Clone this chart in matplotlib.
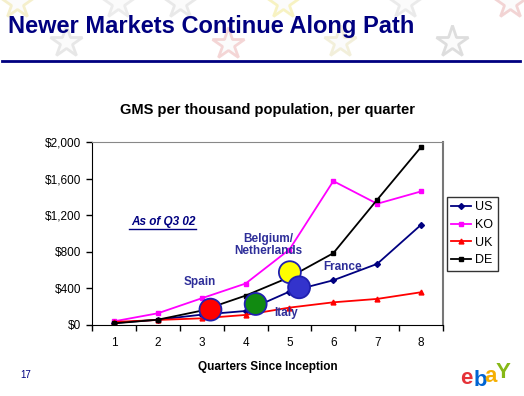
import matplotlib.pyplot as plt
from matplotlib.lines import Line2D
from matplotlib.ticker import FuncFormatter, FixedLocator

plt.rcParams['font.family'] = ['Liberation Sans', 'DejaVu Sans']

# GMS per thousand population, per quarter
quarters = [1, 2, 3, 4, 5, 6, 7, 8]
us = [22, 58, 113, 153, 365, 489, 668, 1095]
ko = [40, 128, 292, 453, 825, 1573, 1325, 1460]
uk = [33, 55, 73, 110, 190, 248, 285, 358]
de = [18, 58, 157, 321, 522, 785, 1369, 1945]

# newer markets placed on the path (quarter, value)
markets = ['Spain', 'Belgium/\nNetherlands', 'France', 'Italy']
market_q = [3.2, 5.01, 5.22, 4.23]
market_val = [168, 577, 412, 230]
market_colors = ['#ff0000', '#ffff00', '#3333cc', '#118a11']

label_col = '#2e2e99'

fig = plt.figure(figsize=(5.24, 3.96), dpi=100)

# faint stars in the header
star_x = [17, 66, 118, 180, 228, 283, 340, 405, 452, 510]
star_y = [3, 42, 3, 3, 44, 3, 42, 3, 42, 3]
star_c = ['#f3ecc0', '#e2e2e2', '#e8e8e8', '#e4e4e4', '#f2cccc',
          '#f6f0b4', '#f0ecd2', '#e6e6e6', '#d6d6d6', '#f0caca']
for sx, sy, sc in zip(star_x, star_y, star_c):
    fig.lines.append(Line2D([sx / 524], [1 - sy / 396], transform=fig.transFigure,
                            marker='*', markersize=24, color=sc, markerfacecolor='#fbfbfb',
                            markeredgecolor=sc, markeredgewidth=2, alpha=0.8))

fig.text(8 / 524, 1 - 33 / 396, 'Newer Markets Continue Along Path', fontsize=17,
         fontweight='bold', color='#000080', va='baseline')
fig.lines.append(Line2D([2 / 524, 520 / 524], [1 - 61 / 396, 1 - 61 / 396],
                        transform=fig.transFigure, color='#000080', lw=2))

ax = fig.add_axes([92 / 524, 71 / 396, 351 / 524, 183 / 396])

ax.plot(quarters, us, color='#000080', marker='D', markersize=3, lw=1.3, label='US')
ax.plot(quarters, ko, color='#ff00ff', marker='s', markersize=3.5, lw=1.3, label='KO')
ax.plot(quarters, uk, color='#ff0000', marker='^', markersize=3.5, lw=1.3, label='UK')
ax.plot(quarters, de, color='#000000', marker='s', markersize=3, lw=1.3, label='DE')

ax.scatter(market_q, market_val, s=250, c=market_colors, edgecolors='#2020b0',
           linewidths=1.3, zorder=5)

ax.set_xlim(0.5, 8.5)
ax.set_ylim(0, 2000)
ax.set_xticks(quarters)
ax.xaxis.set_minor_locator(FixedLocator([0.5 + i for i in range(9)]))
ax.tick_params(axis='x', which='major', length=0, pad=9, labelsize=8.5)
ax.tick_params(axis='x', which='minor', length=4, direction='out', width=1)
ax.set_yticks(range(0, 2001, 400))
ax.yaxis.set_major_formatter(FuncFormatter(lambda v, p: f'${v:,.0f}'))
ax.tick_params(axis='y', length=4, direction='out', labelsize=8.5, width=1)
ax.spines['top'].set_color('#888888')
ax.spines['right'].set_color('#777777')
ax.spines['right'].set_linewidth(1.5)

ax.set_xlabel('Quarters Since Inception', fontsize=8.5, fontweight='bold', labelpad=8)
ax.set_title('GMS per thousand population, per quarter', fontsize=10.5,
             fontweight='bold', pad=20)

# market labels
label_x = [200, 268, 343, 286]
label_y = [282, 245, 267, 313]
for name, lx, ly in zip(markets, label_x, label_y):
    fig.text(lx / 524, 1 - ly / 396, name, fontsize=8.5, fontweight='bold',
             color=label_col, ha='center', va='center', linespacing=1.1)

fig.text(163 / 524, 1 - 222 / 396, 'As of Q3 02', fontsize=8.5, fontweight='bold',
         style='italic', color='#000080', ha='center', va='center')
fig.lines.append(Line2D([129 / 524, 196 / 524], [1 - 229 / 396, 1 - 229 / 396],
                        transform=fig.transFigure, color='#000080', lw=1))

leg = ax.legend(loc='upper left', bbox_to_anchor=(447 / 524, 1 - 197 / 396),
                bbox_transform=fig.transFigure, fontsize=9, frameon=True,
                fancybox=False, edgecolor='black', handlelength=1.6,
                handletextpad=0.3, borderpad=0.35, labelspacing=0.45,
                borderaxespad=0)
leg.get_frame().set_linewidth(1)

fig.text(26 / 524, 1 - 375 / 396, '17', fontsize=7, color='#000080',
         ha='center', va='center')

# ebay logo
logo_letters = ['e', 'b', 'a', 'Y']
logo_cols = ['#e53238', '#0064d2', '#f5af02', '#86b817']
logo_x = [466, 480, 491, 503]
logo_y = [379, 381, 376, 372]
for ch, c, lx, ly in zip(logo_letters, logo_cols, logo_x, logo_y):
    fig.text(lx / 524, 1 - ly / 396, ch, fontsize=16, fontweight='bold', color=c,
             ha='center', va='center')

fig.savefig('out.png', dpi=100)
